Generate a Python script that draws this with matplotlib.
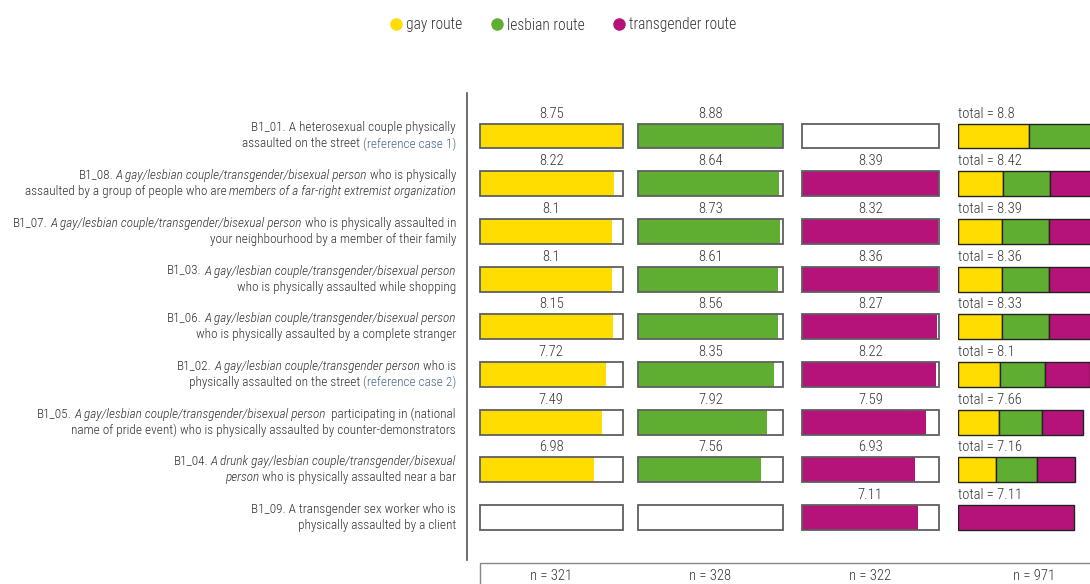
import matplotlib
matplotlib.use("Agg")
import matplotlib.pyplot as plt
import matplotlib.transforms as mtransforms
from matplotlib.patches import Rectangle
from matplotlib.lines import Line2D

plt.rcParams['font.family'] = ['Roboto Condensed', 'DejaVu Sans']
plt.rcParams['font.weight'] = 'light'

# data
routes = ["gay route", "lesbian route", "transgender route"]
colors = ["#FFDD00", "#5FAE32", "#B5137A"]
gay = [8.75, 8.22, 8.1, 8.1, 8.15, 7.72, 7.49, 6.98, None]
lesbian = [8.88, 8.64, 8.73, 8.61, 8.56, 8.35, 7.92, 7.56, None]
trans = [None, 8.39, 8.32, 8.36, 8.27, 8.22, 7.59, 6.93, 7.11]
total = [8.8, 8.42, 8.39, 8.36, 8.33, 8.1, 7.66, 7.16, 7.11]
n_resp = [321, 328, 322, 971]

# row labels: per line a list of (text, style) ; style n=normal, i=italic, r=reference colour
labels = [
    [[("B1_01. A heterosexual couple physically", "n")],
     [("assaulted on the street", "n"), ("(reference case 1)", "r")]],
    [[("B1_08.", "n"), ("A gay/lesbian couple/transgender/bisexual person", "i"), ("who is physically", "n")],
     [("assaulted by a group of people who are", "n"), ("members of a far-right extremist organization", "i")]],
    [[("B1_07.", "n"), ("A gay/lesbian couple/transgender/bisexual person", "i"), ("who is physically assaulted in", "n")],
     [("your neighbourhood by a member of their family", "n")]],
    [[("B1_03.", "n"), ("A gay/lesbian couple/transgender/bisexual person", "i")],
     [("who is physically assaulted while shopping", "n")]],
    [[("B1_06.", "n"), ("A gay/lesbian couple/transgender/bisexual person", "i")],
     [("who is physically assaulted by a complete stranger", "n")]],
    [[("B1_02.", "n"), ("A gay/lesbian couple/transgender person", "i"), ("who is", "n")],
     [("physically assaulted on the street", "n"), ("(reference case 2)", "r")]],
    [[("B1_05.", "n"), ("A gay/lesbian couple/transgender/bisexual person", "i"), (" participating in (national", "n")],
     [("name of pride event) who is physically assaulted by counter-demonstrators", "n")]],
    [[("B1_04.", "n"), ("A drunk gay/lesbian couple/transgender/bisexual", "i")],
     [("person", "i"), ("who is physically assaulted near a bar", "n")]],
    [[("B1_09. A transgender sex worker who is", "n")],
     [("physically assaulted by a client", "n")]],
]

W, H = 1090, 584
PX = 16.3          # pixels per score unit
ROW = 47.7         # pixels per row
TOP, BOT = 88, 560
txt = "#333333"
edge = "#5f5f5f"

fig = plt.figure(figsize=(W / 100, H / 100), dpi=100)

def make_ax(x0, x1):
    ax = fig.add_axes([x0 / W, 1 - BOT / H, (x1 - x0) / W, (BOT - TOP) / H])
    ax.set_xlim(0, (x1 - x0) / PX)
    ax.set_ylim((BOT - 136) / ROW, -(136 - TOP) / ROW)
    ax.axis("off")
    return ax

series = [gay, lesbian, trans]
lefts = [480, 638, 802]
axes = []
for k, vals in enumerate(series):
    vmax = max(v for v in vals if v is not None)
    ax = make_ax(lefts[k], lefts[k] + vmax * PX + 4)
    axes.append(ax)
    for i, v in enumerate(vals):
        if v is not None:
            ax.barh(i, v, height=0.52, color=colors[k], edgecolor="none")
            ax.text(vmax / 2, i - 0.47, f"{v:g}", ha="center", va="center",
                    fontsize=10.5, color=txt)
        ax.add_patch(Rectangle((0, i - 0.26), vmax, 0.52, facecolor="none",
                               edgecolor=edge, lw=1.3, clip_on=False))
    fig.text((lefts[k] + vmax * PX / 2) / W, 1 - 576 / H, f"n = {n_resp[k]}",
             ha="center", va="center", fontsize=10.5, color=txt)

# total panel: stacked segments, each route's score divided by number of routes asked
axt = make_ax(958, W)
for i in range(len(total)):
    present = [(k, s[i]) for k, s in enumerate(series) if s[i] is not None]
    left = 0
    for k, v in present:
        w = v / len(present)
        axt.barh(i, w, left=left, height=0.52, color=colors[k], edgecolor="#222222", lw=1)
        left += w
    axt.text(0, i - 0.47, f"total = {total[i]:g}", ha="left", va="center",
             fontsize=10.5, color=txt)
fig.text(1034 / W, 1 - 576 / H, f"n = {n_resp[3]}", ha="center", va="center",
         fontsize=10.5, color=txt)

# n box and separator line
fig.add_artist(Rectangle((480 / W, -0.01), (W - 480 + 10) / W, (584 - 563) / H + 0.01,
                         transform=fig.transFigure, facecolor="none", edgecolor="#888888", lw=1))
fig.add_artist(Line2D([467 / W, 467 / W], [1 - 93 / H, 1 - 560 / H],
                      transform=fig.transFigure, color="#555555", lw=1.2))

# row labels with mixed styles, right aligned
renderer = fig.canvas.get_renderer()
ident = mtransforms.IdentityTransform()
gap = 2.5
x_right = 456
for i, lines in enumerate(labels):
    yc = axes[0].transData.transform((0, i))[1]
    for j, segs in enumerate(lines):
        y = yc + 8 - 16 * j
        x = x_right
        for s, st in reversed(segs):
            t = fig.text(x, y, s, transform=ident, ha="right", va="center", fontsize=9.5,
                         color="#4A6A8C" if st == "r" else txt,
                         style="italic" if st == "i" else "normal")
            bb = t.get_window_extent(renderer)
            x = bb.x0 - gap

# legend
handles = [Line2D([], [], marker="o", ls="none", color=c, markersize=8) for c in colors]
fig.legend(handles, routes, loc="center", bbox_to_anchor=(563 / W, 1 - 25 / H), ncol=3,
           frameon=False, fontsize=11.2, handlelength=0.8, handletextpad=0.25,
           columnspacing=1.8, labelcolor=txt)

fig.savefig("out.png", dpi=100)
